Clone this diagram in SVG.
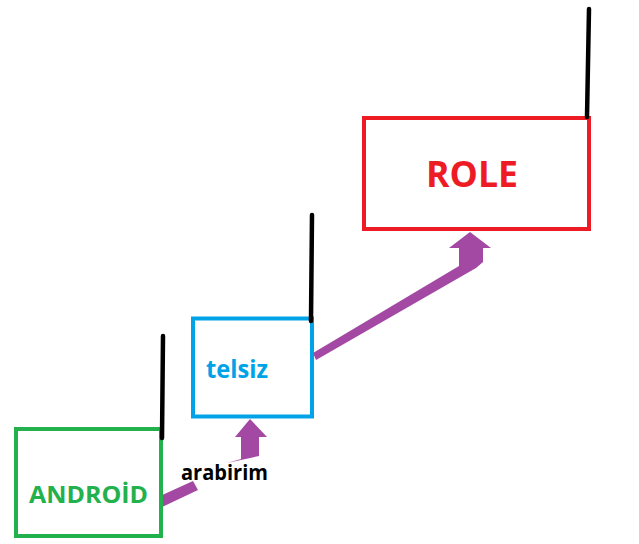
<svg xmlns="http://www.w3.org/2000/svg" width="639" height="544" viewBox="0 0 639 544">
<style>
.box{fill:none;stroke-width:4}
.ant{stroke:#000;stroke-width:4.5;stroke-linecap:round;fill:none}
.lbl{font-family:"Open Sans","Liberation Sans",sans-serif;font-weight:bold}
.arr{fill:#a349a4}
</style>
<rect width="639" height="544" fill="#fff"/>
<g id="connectors">
<path class="arr" d="M160,496 L193,481 L198,490 L160,508 Z M227,463 L241,459 L241,437 L235,437 L250,419 L267,437 L259,437 L259,456 Z"/>
<polygon class="arr" points="313,353 459,266 459,248 449,248 470,232 491,248 483,248 483,262 476,268 316,360"/>
</g>
<g id="android">
<rect class="box" x="16" y="429" width="145" height="107" stroke="#22b14c"/>
<line class="ant" x1="163" y1="336" x2="162" y2="438"/>
<text class="lbl" x="29" y="503" font-size="24" fill="#22b14c" textLength="119" lengthAdjust="spacingAndGlyphs">ANDROİD</text>
</g>
<g id="telsiz">
<rect class="box" x="193" y="318.5" width="119" height="98" stroke="#00a2e8"/>
<line class="ant" x1="312" y1="215" x2="311" y2="321"/>
<text class="lbl" x="206" y="378" font-size="25" fill="#00a2e8" textLength="62" lengthAdjust="spacingAndGlyphs">telsiz</text>
</g>
<g id="role">
<rect class="box" x="364" y="118" width="225" height="111" stroke="#ed1c24"/>
<line class="ant" x1="589" y1="9" x2="587" y2="117"/>
<text class="lbl" x="426" y="187" font-size="36" fill="#ed1c24" textLength="92" lengthAdjust="spacingAndGlyphs">ROLE</text>
</g>
<g id="label">
<text class="lbl" x="181" y="480" font-size="21" fill="#000" textLength="87" lengthAdjust="spacingAndGlyphs">arabirim</text>
</g>
</svg>
